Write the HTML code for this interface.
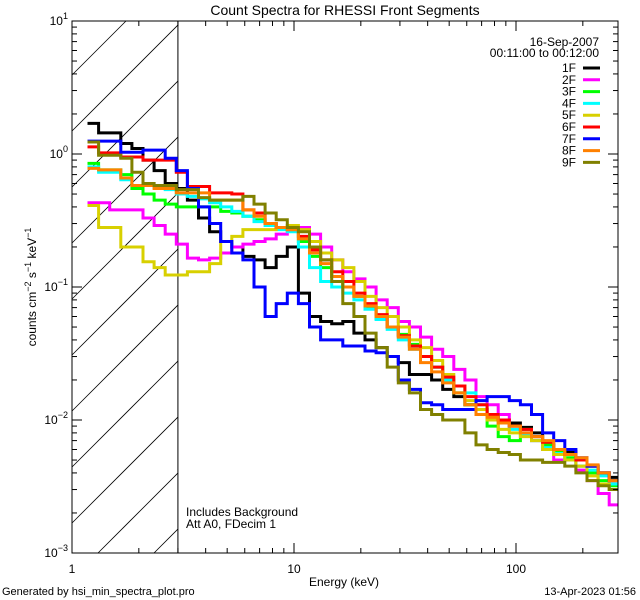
<!DOCTYPE html>
<html><head><meta charset="utf-8"><style>
html,body{margin:0;padding:0;background:#fff;width:640px;height:600px;overflow:hidden}
svg{display:block;font-family:"Liberation Sans","DejaVu Sans",sans-serif}
</style></head><body>
<svg id="chart" width="640" height="600" viewBox="0 0 640 600" xmlns="http://www.w3.org/2000/svg">
<rect x="0" y="0" width="640" height="600" fill="#fff"/>
<text x="345" y="15" font-size="14" text-anchor="middle">Count Spectra for RHESSI Front Segments</text>
<g id="hatch"></g>
<g id="series"></g>
<g id="axes"></g>
<g id="legend"></g>
<text transform="translate(36,287) rotate(-90)" font-size="12" text-anchor="middle">counts cm<tspan dy="-5" font-size="9">−2</tspan><tspan dy="5"> s</tspan><tspan dy="-5" font-size="9">−1</tspan><tspan dy="5"> keV</tspan><tspan dy="-5" font-size="9">−1</tspan></text>
<text x="344" y="586" font-size="12" text-anchor="middle">Energy (keV)</text>
<text x="186" y="516" font-size="12">Includes Background</text>
<text x="186" y="528" font-size="12">Att A0, FDecim 1</text>
<text x="2" y="595" font-size="11">Generated by hsi_min_spectra_plot.pro</text>
<text x="636" y="595" font-size="11" text-anchor="end">13-Apr-2023 01:56</text>
</svg>
<script>
const binStartLog = 0.07, binStep = 0.05;
const seriesNames = ["1F","2F","3F","4F","5F","6F","7F","8F","9F"];
const seriesColors = ["#000000","#ff00ff","#00ff00","#00ffff","#d8d000","#ff0000","#0000ff","#ff8000","#808000"];
const s1F = [1.7,1.44,1.44,1.2,1.1,0.9,0.75,0.6,0.55,0.45,0.33,0.26,0.22,0.2,0.17,0.16,0.14,0.17,0.2,0.09,0.06,0.055,0.053,0.055,0.045,0.04,0.035,0.03,0.027,0.022,0.022,0.02,0.017,0.015,0.013,0.012,0.011,0.01,0.0095,0.0088,0.008,0.0065,0.006,0.0058,0.005,0.0045,0.004,0.0037];
const s2F = [0.43,0.43,0.38,0.38,0.38,0.33,0.29,0.25,0.21,0.165,0.16,0.165,0.18,0.2,0.21,0.22,0.23,0.25,0.28,0.28,0.25,0.2,0.16,0.13,0.115,0.1,0.08,0.07,0.055,0.05,0.042,0.034,0.03,0.024,0.02,0.015,0.013,0.011,0.009,0.008,0.007,0.006,0.005,0.005,0.0042,0.0035,0.0028,0.0023];
const s3F = [0.85,0.76,0.76,0.7,0.55,0.5,0.45,0.42,0.4,0.4,0.4,0.4,0.37,0.36,0.34,0.32,0.3,0.28,0.27,0.22,0.17,0.14,0.12,0.1,0.085,0.07,0.058,0.05,0.044,0.037,0.03,0.025,0.02,0.016,0.013,0.011,0.009,0.0075,0.007,0.0085,0.0075,0.0065,0.0058,0.0052,0.0045,0.004,0.0035,0.0032];
const s4F = [0.8,0.73,0.73,0.64,0.58,0.58,0.56,0.54,0.5,0.48,0.46,0.43,0.4,0.37,0.34,0.31,0.29,0.27,0.26,0.2,0.14,0.11,0.1,0.09,0.08,0.068,0.057,0.048,0.04,0.034,0.03,0.025,0.02,0.018,0.016,0.013,0.011,0.0095,0.0085,0.0078,0.007,0.0062,0.0056,0.005,0.0045,0.0042,0.0038,0.0033];
const s5F = [0.41,0.28,0.28,0.2,0.2,0.155,0.14,0.123,0.123,0.13,0.13,0.15,0.22,0.24,0.27,0.27,0.27,0.28,0.29,0.27,0.22,0.18,0.16,0.14,0.11,0.085,0.07,0.06,0.05,0.04,0.035,0.028,0.022,0.018,0.014,0.012,0.01,0.0085,0.008,0.0075,0.007,0.006,0.0055,0.005,0.0045,0.0038,0.0033,0.003];
const s6F = [1.13,1.02,1.02,0.95,0.95,0.9,0.9,0.9,0.73,0.57,0.57,0.51,0.51,0.5,0.38,0.36,0.3,0.28,0.27,0.24,0.19,0.16,0.13,0.11,0.09,0.075,0.062,0.05,0.043,0.036,0.03,0.025,0.021,0.018,0.015,0.013,0.011,0.01,0.009,0.0085,0.0075,0.0068,0.006,0.0055,0.005,0.0045,0.004,0.0035];
const s7F = [1.25,1.25,1.25,1.03,1.03,1.07,1.07,0.93,0.75,0.55,0.4,0.3,0.22,0.18,0.16,0.1,0.06,0.075,0.09,0.075,0.05,0.04,0.04,0.036,0.036,0.033,0.032,0.03,0.02,0.017,0.0135,0.013,0.012,0.012,0.012,0.014,0.015,0.015,0.014,0.013,0.011,0.008,0.007,0.006,0.0052,0.0045,0.004,0.0035];
const s8F = [0.78,0.76,0.76,0.66,0.58,0.58,0.55,0.55,0.51,0.51,0.51,0.45,0.45,0.45,0.38,0.34,0.3,0.28,0.27,0.23,0.18,0.15,0.12,0.1,0.085,0.072,0.06,0.05,0.042,0.034,0.027,0.023,0.019,0.016,0.013,0.011,0.0105,0.0095,0.009,0.008,0.0075,0.007,0.006,0.0055,0.0052,0.0046,0.004,0.0035];
const s9F = [1.23,0.98,0.98,0.93,0.73,0.6,0.58,0.58,0.54,0.54,0.47,0.45,0.45,0.45,0.48,0.42,0.36,0.32,0.28,0.26,0.2,0.16,0.11,0.075,0.06,0.045,0.035,0.025,0.019,0.016,0.012,0.011,0.01,0.01,0.008,0.0065,0.006,0.0057,0.0055,0.005,0.005,0.0048,0.0048,0.0045,0.004,0.0035,0.0032,0.003];
const seriesValues = [s1F,s2F,s3F,s4F,s5F,s6F,s7F,s8F,s9F];
const xTickMajor = [1,10,100];
const yTickMajorExp = [1,0,-1,-2,-3];
const thresholdE = 3;

const NS="http://www.w3.org/2000/svg";
const L=72,R=618,T=21,B=553;
const xMinLog=0, xMaxLog=(R-L)/222;
const yMaxLog=1, yMinLog=-3;
function xs(e){return L+(Math.log10(e)-xMinLog)/(xMaxLog-xMinLog)*(R-L);}
function ys(v){return T+(yMaxLog-Math.log10(v))/(yMaxLog-yMinLog)*(B-T);}
function mk(tag,attrs,parent){const e=document.createElementNS(NS,tag);for(const k in attrs)e.setAttribute(k,attrs[k]);parent.appendChild(e);return e;}

const hatch=document.getElementById('hatch');
const X3=xs(thresholdE);
for(let c=651-56*12;c<651+56*3;c+=56){
  // line y = c - x clipped to [L,X3]x[T,B]
  let xa=Math.max(L,c-B), xb=Math.min(X3,c-T);
  if(xb<=xa) continue;
  const ln=mk('line',{x1:xa,y1:c-xa,x2:xb,y2:c-xb,stroke:'#000','stroke-width':0.8},hatch);
  
  
}
const thr=mk('line',{x1:X3,y1:T,x2:X3,y2:B,stroke:'#000','stroke-width':1},hatch);



const sg=document.getElementById('series');
seriesValues.forEach((vals,si)=>{
  let d='';
  vals.forEach((v,i)=>{
    const x0=xs(Math.pow(10,binStartLog+binStep*i)), x1=xs(Math.pow(10,binStartLog+binStep*(i+1)));
    const y=ys(v);
    d+=(i===0?'M':'L')+x0.toFixed(1)+','+y.toFixed(1)+'L'+Math.min(x1,R).toFixed(1)+','+y.toFixed(1);
  });
  const p=mk('path',{d:d,fill:'none',stroke:seriesColors[si],'stroke-width':3,'stroke-linejoin':'miter'},sg);
  
  
});

const ax=document.getElementById('axes');
const frame=mk('rect',{x:L,y:T,width:R-L,height:B-T,fill:'none',stroke:'#000','stroke-width':1},ax);


for(let dec=0;dec<3;dec++){for(let m=1;m<10;m++){const e=m*Math.pow(10,dec);const x=xs(e);if(x>R)break;const len=m===1?10:5;
  mk('line',{x1:x,y1:B,x2:x,y2:B-len,stroke:'#000'},ax);mk('line',{x1:x,y1:T,x2:x,y2:T+len,stroke:'#000'},ax);}}
xTickMajor.forEach(e=>{const t=mk('text',{x:xs(e),y:B+20,'font-size':12,'text-anchor':'middle'},ax);t.textContent=String(e);
  
  });
for(let ex=-3;ex<1;ex++){for(let m=1;m<10;m++){const v=m*Math.pow(10,ex);const y=ys(v);const len=m===1?10:5;
  mk('line',{x1:L,y1:y,x2:L+len,y2:y,stroke:'#000'},ax);mk('line',{x1:R,y1:y,x2:R-len,y2:y,stroke:'#000'},ax);}}
yTickMajorExp.forEach(ex=>{const t=mk('text',{x:L-4,y:ys(Math.pow(10,ex))+4,'font-size':12,'text-anchor':'end'},ax);
  t.innerHTML='10<tspan dy="-6" font-size="9">'+(ex<0?'−'+(-ex):ex)+'</tspan>';
  
  });

const lg=document.getElementById('legend');
const d1=mk('text',{x:599,y:46,'font-size':12,'text-anchor':'end'},lg);d1.textContent='16-Sep-2007';


const d2=mk('text',{x:599,y:57,'font-size':12,'text-anchor':'end'},lg);d2.textContent='00:11:00 to 00:12:00';


seriesNames.forEach((n,i)=>{const y=68+i*11.8;
  const t=mk('text',{x:576,y:y+4,'font-size':12,'text-anchor':'end'},lg);t.textContent=n;
  
  
  const l=mk('line',{x1:583,y1:y,x2:600,y2:y,stroke:seriesColors[i],'stroke-width':3},lg);
  
  });
</script>
</body></html>
